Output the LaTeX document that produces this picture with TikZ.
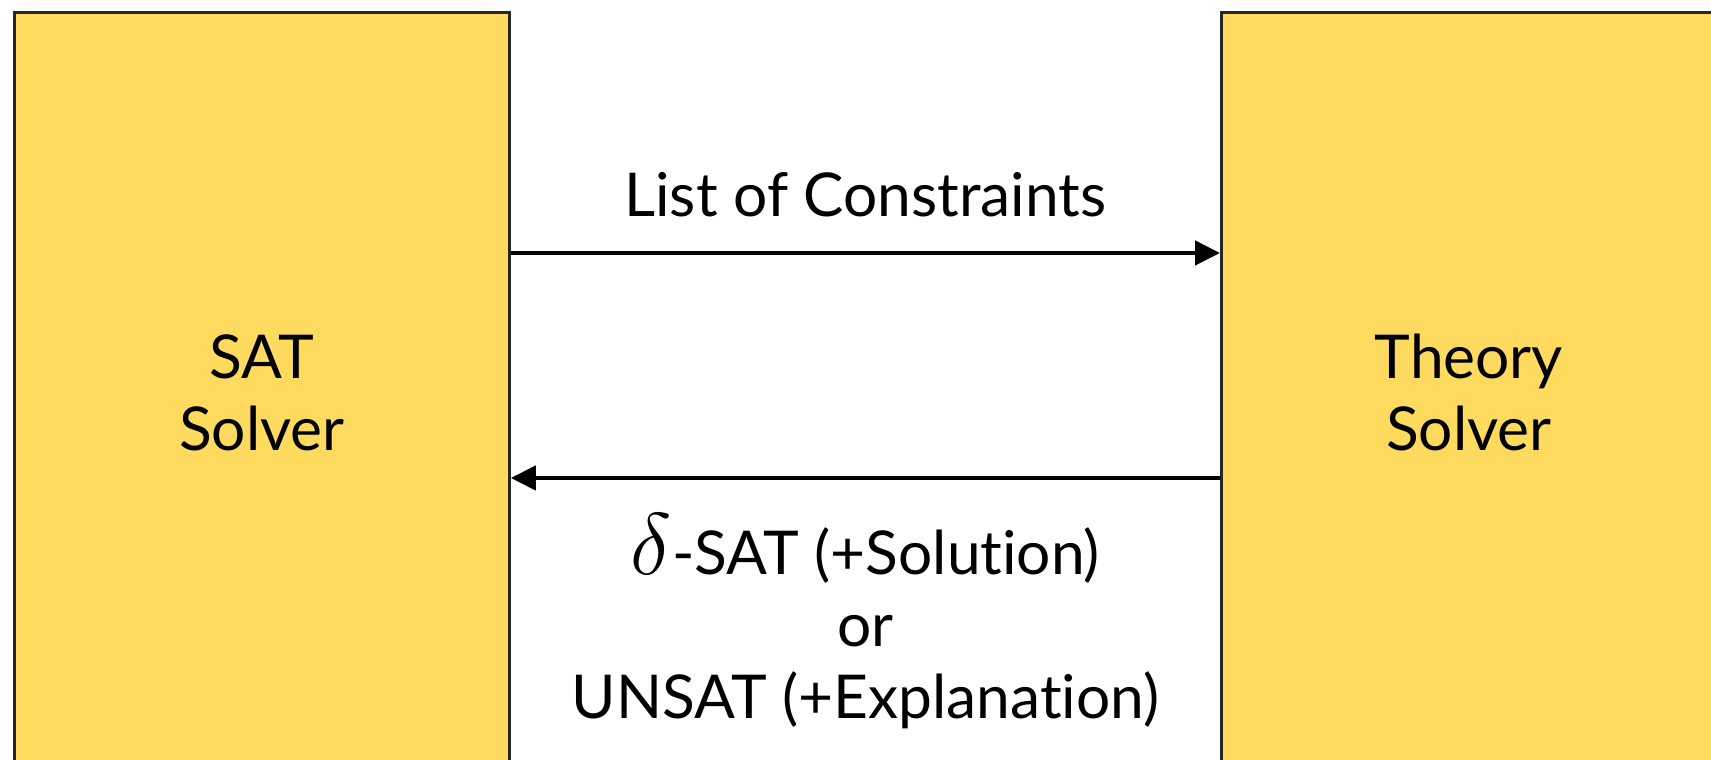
\documentclass[tikz,border=0pt]{standalone}
\usepackage{fontspec}
\setmainfont{Lato}[Ligatures={NoCommon,NoContextual}]
\usetikzlibrary{arrows.meta}
\definecolor{solveryellow}{RGB}{254,219,94}

\begin{document}
\begin{tikzpicture}
  \useasboundingbox (0,0) rectangle (17.11,7.6);
  \clip (0,0) rectangle (17.11,7.6);
  \tikzset{
    solver/.style={draw=black!85, line width=0.8pt, fill=solveryellow,
      minimum width=4.95cm, minimum height=7.6cm, anchor=north west,
      align=center, font=\fontsize{17.2}{20.5}\selectfont},
    msg/.style={-{Triangle[length=2.5mm,width=2.4mm]}, line width=1.3pt},
    msglabel/.style={align=center, font=\fontsize{17.2}{20.5}\selectfont}
  }
  % solvers
  \node[solver] (sat) at (0.13,7.49) {SAT\\Solver};
  \node[solver] (theory) at (12.20,7.49) {Theory\\Solver};

  % message heights
  \coordinate (up) at (0,5.07);
  \coordinate (down) at (0,2.82);

  % constraints to the theory solver
  \draw[msg] (sat.east |- up) -- (theory.west |- up)
    node[msglabel, midway, anchor=base, yshift=0.36cm] (constraints) {List of Constraints};

  % answer back to the sat solver
  \draw[msg] (theory.west |- down) -- (sat.east |- down)
    node[msglabel, midway, anchor=north, yshift=-0.22cm] (answer)
    {{\fontsize{25}{25}\selectfont$\delta$}-SAT (+Solution)\\or\\UNSAT (+Explanation)};
\end{tikzpicture}
\end{document}
